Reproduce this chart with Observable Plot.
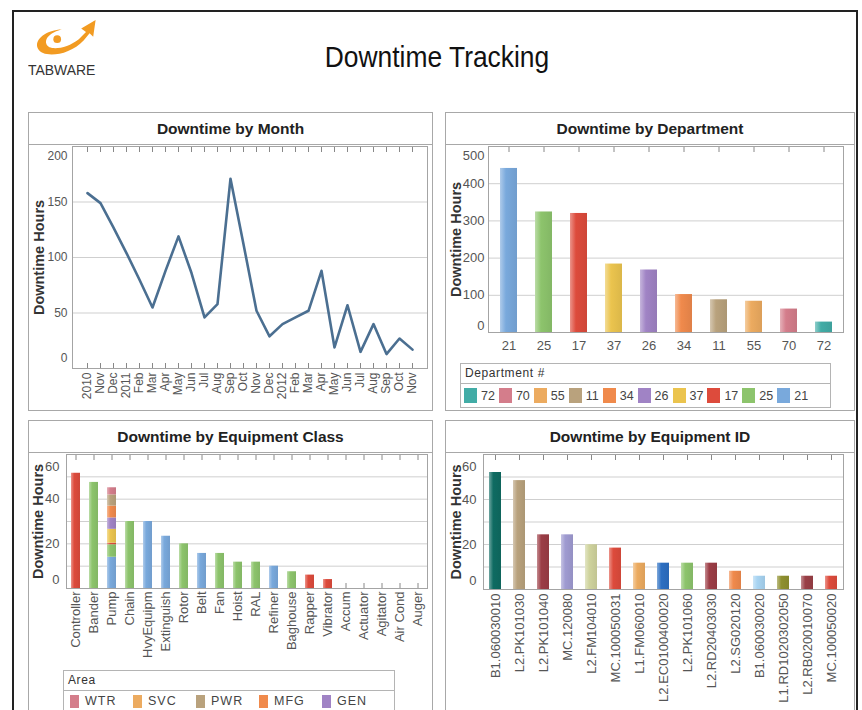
<!DOCTYPE html>
<html><head><meta charset="utf-8">
<script src="https://cdn.jsdelivr.net/npm/d3@7"></script>
<script src="https://cdn.jsdelivr.net/npm/@observablehq/plot@0.6"></script>
<style>
body{margin:0;background:#fff;font-family:"Liberation Sans",Arial,sans-serif;}
#page{position:relative;width:862px;height:710px;overflow:hidden;background:#fff;}
#frame{position:absolute;left:12px;top:10px;width:846px;height:760px;border:2px solid #222;box-sizing:border-box;}
#title{position:absolute;left:437px;top:40px;font-size:30px;color:#111;white-space:nowrap;transform:translateX(-50%) scaleX(0.88);}
#brand{position:absolute;left:28px;top:61px;font-size:15px;color:#333;white-space:nowrap;transform-origin:0 0;transform:scaleX(0.93);}
.panel{position:absolute;border:1px solid #a8a8a8;box-sizing:border-box;background:#fff;}
.hdr{height:31px;border-bottom:1px solid #a8a8a8;display:flex;align-items:center;justify-content:center;font-weight:bold;font-size:15.5px;color:#222;}
.plotbox{position:absolute;left:0;top:32px;}
.plotbox svg{overflow:visible;}
.legend{position:absolute;border:1px solid #b4b4b4;background:#fff;box-sizing:border-box;overflow:hidden;}
.legend .lt{height:19px;border-bottom:1px solid #b4b4b4;font-size:12px;color:#333;padding-left:4px;line-height:19px;letter-spacing:0.6px;}
.legend .items{display:flex;flex-wrap:wrap;padding:4px 0 0 2px;}
.legend .it{display:flex;align-items:center;font-size:13px;color:#444;}
.legend .sw{display:inline-block;}
</style></head>
<body>
<div id="page">
  <div id="frame"></div>
  <svg width="80" height="50" style="position:absolute;left:30px;top:14px">
    <g transform="translate(-4,-6) scale(1.2)">
    <path d="M10,34 C6,26 18,18 30,18 C24,19 15,24 17,30 C19,36 34,34 44,26 L50,20 L46,17 L58,10 L56,24 L53,21 L48,27 C36,40 14,42 10,34Z" fill="#f29b22"/>
    <circle cx="26" cy="26" r="3.2" fill="#f29b22"/>
    </g>
  </svg>
  <div id="brand">TABWARE</div>
  <div id="title">Downtime Tracking</div>

  <div class="panel" style="left:28px;top:112px;width:405px;height:299px;">
    <div class="hdr">Downtime by Month</div>
    <div class="plotbox" id="p1"></div>
  </div>
  <div class="panel" style="left:445px;top:112px;width:410px;height:299px;">
    <div class="hdr">Downtime by Department</div>
    <div class="plotbox" id="p2"></div>
    <div class="legend" id="leg2" style="left:14px;top:250px;width:371px;height:45px;"></div>
  </div>
  <div class="panel" style="left:28px;top:420px;width:405px;height:310px;">
    <div class="hdr">Downtime by Equipment Class</div>
    <div class="plotbox" id="p3"></div>
    <div class="legend" id="leg3" style="left:34px;top:249px;width:332px;height:60px;"></div>
  </div>
  <div class="panel" style="left:445px;top:420px;width:410px;height:310px;">
    <div class="hdr">Downtime by Equipment ID</div>
    <div class="plotbox" id="p4"></div>
  </div>
</div>
<script>
// ---------- data ----------
const monthLabels = ["2010","Nov","Dec","2011","Feb","Mar","Apr","May","Jun","Jul","Aug","Sep","Oct","Nov","Dec","2012","Feb","Mar","Apr","May","Jun","Jul","Aug","Sep","Oct","Nov"];
const monthHours  = [158,149,127,104,80,55,88,119,86,46,58,171,112,52,29,40,46,52,88,19,57,15,40,13,27,17];

const deptIds    = ["21","25","17","37","26","34","11","55","70","72"];
const deptHours  = [441,324,320,184,168,102,88,84,63,28];
const deptColors = ["#79a9dc","#8dc46c","#dd4b3c","#ebc44e","#a083c5","#f08a4c","#b9a27d","#ecab60","#d47d8b","#42aca6"];

const equipClasses = ["Controller","Bander","Pump","Chain","HvyEquipm","Extinguish","Rotor","Belt","Fan","Hoist","RAL","Refiner","Baghouse","Rapper","Vibrator","Accum","Actuator","Agitator","Air Cond","Auger"];
const areaNames  = ["ASM","BLD","CHM","FAC","GEN","MFG","PWR","SVC","WTR"];
const areaColors = ["#79a9dc","#8dc46c","#dd4b3c","#ebc44e","#a083c5","#f08a4c","#b9a27d","#ecab60","#d47d8b"];
const areaLegendVisible = ["WTR","SVC","PWR","MFG","GEN"];
const segClass = ["Controller","Bander","Pump","Pump","Pump","Pump","Pump","Pump","Pump","Pump","Chain","HvyEquipm","Extinguish","Rotor","Belt","Fan","Hoist","RAL","Refiner","Baghouse","Rapper","Vibrator"];
const segArea  = ["CHM","BLD","ASM","BLD","CHM","FAC","GEN","MFG","PWR","WTR","BLD","ASM","ASM","BLD","ASM","BLD","BLD","BLD","ASM","BLD","CHM","CHM"];
const segHours = [51.6,47.5,14.0,5.6,0.7,6.2,5.1,5.3,5.0,3.2,30,30,23.4,20,15.7,15.7,11.8,11.8,10,7.5,6,4];

const equipIds    = ["B1.060030010","L2.PK101030","L2.PK101040","MC.120080","L2.FM104010","MC.100050031","L1.FM060010","L2.EC0100400020","L2.PK101060","L2.RD20403030","L2.SG020120","B1.060030020","L1.RD1020302050","L2.RB020010070","MC.100050020"];
const equipHours  = [52,48.4,24.3,24.3,19.9,18.4,11.7,11.7,11.7,11.7,8.1,5.9,5.9,5.9,5.9];
const equipColors = ["#0f6b62","#b9a27d","#9c3d46","#9f9bd1","#cfd39d","#dd4b3c","#ecab60","#2c6fc2","#8dc46c","#9c3d46","#f08a4c","#a8d4f2","#8f902f","#9a3f46","#dd4b3c"];

// ---------- helpers ----------
const FONT = "'Liberation Sans', Arial, sans-serif";
const baseStyle = {fontFamily: FONT, fontSize: "12px", color: "#555", background: "transparent", overflow: "visible"};
const GRID = "#cfcfcf", FRAME = "#a4a4a4";

function yLabel(dx) {
  return Plot.text(["Downtime Hours"], {frameAnchor: "left", textAnchor: "middle", dx, rotate: -90, fontWeight: "bold", fontSize: 14.5, fill: "#333", text: d => d});
}
function yAxes(mid, top, bottom, pad, dTop, dBot) {
  return [
    Plot.axisY(mid, {tickSize: 0, tickPadding: pad, label: null}),
    Plot.axisY([top], {tickSize: 0, tickPadding: pad, label: null, dy: dTop}),
    Plot.axisY([bottom], {tickSize: 0, tickPadding: pad, label: null, dy: dBot})
  ];
}
function innerTicks(bottomToo) {
  const m = [Plot.axisX({anchor: "top", tickSize: 5, dy: 5, tickFormat: () => "", label: null, stroke: "#888"})];
  if (bottomToo) m.push(Plot.axisX({anchor: "bottom", tickSize: 5, dy: -5, tickFormat: () => "", label: null, stroke: "#888"}));
  return m;
}
function sheen(svg, id) {
  const s = d3.select(svg);
  const defs = s.insert("defs", ":first-child");
  let k = 0;
  s.selectAll("g[aria-label='bar'] rect").each(function() {
    const c = this.getAttribute("fill");
    if (!c || c.startsWith("url")) return;
    const gid = `${id}-g${k++}`;
    const g = defs.append("linearGradient").attr("id", gid).attr("x1", 0).attr("x2", 1).attr("y1", 0).attr("y2", 0);
    g.append("stop").attr("offset", "0%").attr("stop-color", d3.interpolateRgb(c, "#fff")(0.4));
    g.append("stop").attr("offset", "35%").attr("stop-color", c);
    g.append("stop").attr("offset", "100%").attr("stop-color", d3.color(c).darker(0.2).formatHex());
    this.setAttribute("fill", `url(#${gid})`);
  });
}

// ---------- 1: by month ----------
const monthData = monthLabels.map((m, i) => ({i, label: m, hours: monthHours[i]}));
const p1 = Plot.plot({
  width: 403, height: 265,
  marginLeft: 43, marginRight: 5, marginTop: 1, marginBottom: 42,
  style: baseStyle,
  x: {type: "point", domain: monthData.map(d => d.i), padding: 0.44},
  y: {domain: [0, 200]},
  marks: [
    Plot.gridY([50, 100, 150], {stroke: GRID, strokeOpacity: 1}),
    Plot.frame({stroke: FRAME}),
    ...innerTicks(true),
    Plot.axisX({tickSize: 0, tickPadding: 4, tickRotate: -90, tickFormat: i => monthLabels[i], label: null}),
    ...yAxes([50, 100, 150], 200, 0, 5, 10, -10),
    yLabel(-33.5),
    Plot.line(monthData, {x: "i", y: "hours", stroke: "#4b6f91", strokeWidth: 2.6})
  ]
});
document.getElementById("p1").append(p1);

// ---------- 2: by department ----------
const deptData = deptIds.map((d, i) => ({dept: d, hours: deptHours[i]}));
const p2 = Plot.plot({
  width: 408, height: 216,
  marginLeft: 42, marginRight: 11, marginTop: 1, marginBottom: 29,
  style: {...baseStyle, fontSize: "13px"},
  x: {domain: deptIds, paddingInner: 0.52, paddingOuter: 0.28},
  y: {domain: [0, 500]},
  color: {domain: deptIds, range: deptColors},
  marks: [
    Plot.gridY([100, 200, 300, 400], {stroke: GRID, strokeOpacity: 1}),
    Plot.frame({stroke: FRAME}),
    ...innerTicks(false),
    Plot.axisX({tickSize: 0, tickPadding: 8, label: null}),
    ...yAxes([100, 200, 300, 400], 500, 0, 4, 9, -7),
    yLabel(-32.5),
    Plot.barY(deptData, {x: "dept", y: "hours", fill: "dept"})
  ]
});
sheen(p2, "dept");
document.getElementById("p2").append(p2);

// legend 2
const leg2 = d3.select("#leg2");
leg2.append("div").attr("class", "lt").text("Department #");
const it2 = leg2.append("div").attr("class", "items").style("flex-wrap", "nowrap").style("padding-left", "3px");
deptIds.slice().reverse().forEach(d => {
  const c = deptColors[deptIds.indexOf(d)];
  const it = it2.append("div").attr("class", "it").style("margin-right", "4px").style("font-size", "12.5px");
  it.append("span").attr("class", "sw").style("width", "13px").style("height", "15px").style("background", c).style("margin-right", "4px");
  it.append("span").text(d);
});

// ---------- 3: by equipment class ----------
const segData = segClass.map((c, i) => ({cls: c, area: segArea[i], hours: segHours[i]}));
const p3 = Plot.plot({
  width: 403, height: 212,
  marginLeft: 37, marginRight: 5, marginTop: 1, marginBottom: 77,
  style: {...baseStyle, fontSize: "13px"},
  x: {domain: equipClasses, paddingInner: 0.52, paddingOuter: 0.15},
  y: {domain: [0, 60]},
  color: {domain: areaNames, range: areaColors},
  marks: [
    Plot.gridY([10, 20, 30, 40, 50], {stroke: GRID, strokeOpacity: 1}),
    Plot.frame({stroke: FRAME}),
    ...innerTicks(true),
    Plot.axisX({tickSize: 0, tickPadding: 3, tickRotate: -90, label: null}),
    ...yAxes([20, 40], 60, 0, 7, 12, -9),
    yLabel(-28),
    Plot.barY(segData, Plot.stackY({x: "cls", y: "hours", fill: "area", order: areaNames}))
  ]
});
sheen(p3, "cls");
document.getElementById("p3").append(p3);

// legend 3 (scrolling legend: only its first row is in view)
const leg3 = d3.select("#leg3");
leg3.append("div").attr("class", "lt").text("Area");
const it3 = leg3.append("div").attr("class", "items").style("padding", "2px 0 0 6px");
areaLegendVisible.forEach(a => {
  const c = areaColors[areaNames.indexOf(a)];
  const it = it3.append("div").attr("class", "it").style("width", "63px").style("height", "16px").style("letter-spacing", "1px").style("font-size", "12.5px").style("line-height", "13px");
  it.append("span").attr("class", "sw").style("width", "9px").style("height", "13px").style("background", c).style("margin-right", "6px");
  it.append("span").text(a);
});

// ---------- 4: by equipment ID ----------
const idData = equipIds.map((d, i) => ({id: d, hours: equipHours[i]}));
const p4 = Plot.plot({
  width: 408, height: 257,
  marginLeft: 37, marginRight: 11, marginTop: 1, marginBottom: 121,
  style: {...baseStyle, fontSize: "13px"},
  x: {domain: equipIds, paddingInner: 0.5, paddingOuter: 0.19},
  y: {domain: [0, 60]},
  color: {domain: equipIds, range: equipColors},
  marks: [
    Plot.gridY([10, 20, 30, 40, 50], {stroke: GRID, strokeOpacity: 1}),
    Plot.frame({stroke: FRAME}),
    ...innerTicks(false),
    Plot.axisX({tickSize: 0, tickPadding: 4, tickRotate: -90, label: null}),
    ...yAxes([20, 40], 60, 0, 7, 12, -9),
    yLabel(-27.5),
    Plot.barY(idData, {x: "id", y: "hours", fill: "id"})
  ]
});
sheen(p4, "id");
document.getElementById("p4").append(p4);
</script>
</body></html>
